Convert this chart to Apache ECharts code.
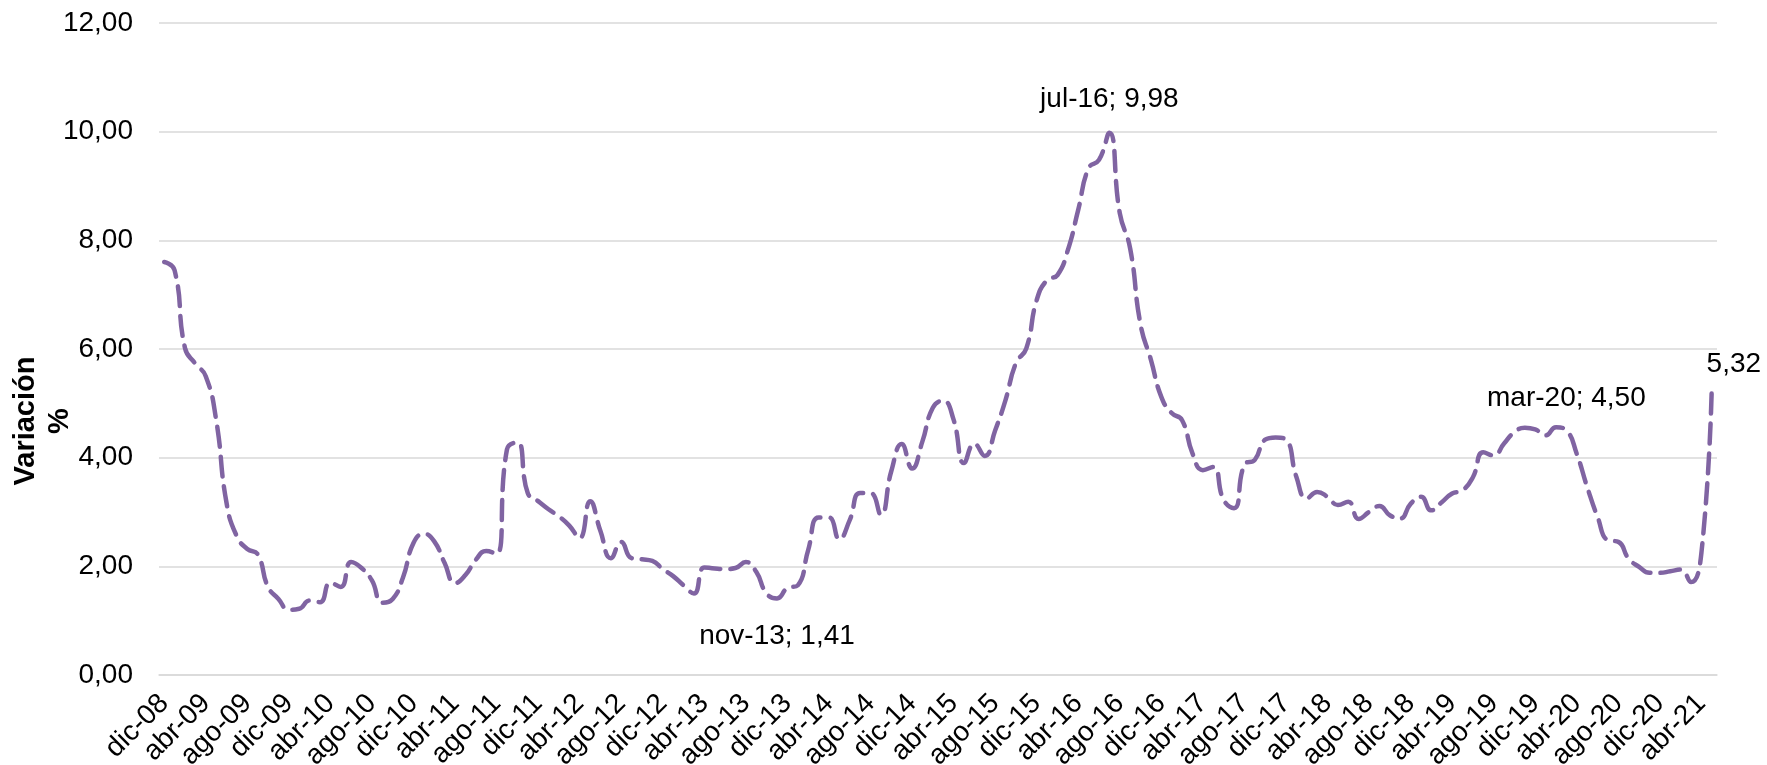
<!DOCTYPE html>
<html>
<head>
<meta charset="utf-8">
<script src="https://cdn.jsdelivr.net/npm/echarts@6/dist/echarts.min.js"></script>
<style>
  html, body { margin: 0; padding: 0; background: #ffffff; }
  #chart { width: 1767px; height: 765px; }
</style>
</head>
<body>
<div id="chart"></div>
<script>
// Monthly series: dic-08 .. may-21
const monthNames = ['ene','feb','mar','abr','may','jun','jul','ago','sep','oct','nov','dic'];
const firstMonth = { year: 2008, month: 11 };   // dic-08 (0-based month)
const monthCount = 150;

const categories = [];
for (let k = 0; k < monthCount; k++) {
  const m = (firstMonth.month + k) % 12;
  const y = firstMonth.year + Math.floor((firstMonth.month + k) / 12);
  categories.push(monthNames[m] + '-' + String(y % 100).padStart(2, '0'));
}

// Variación % (one value per month)
const values2009 = [7.60, 7.45, 6.02, 5.73, 5.50, 4.70, 3.17, 2.55, 2.32, 2.22, 1.62, 1.40, 1.20];      // dic-08 .. dic-09
const values2010 = [1.22, 1.37, 1.34, 1.70, 1.62, 2.08, 1.97, 1.74, 1.33, 1.40, 1.80, 2.43];
const values2011 = [2.60, 2.46, 2.06, 1.69, 1.84, 2.12, 2.28, 2.23, 4.15, 4.28, 3.35, 3.20];
const values2012 = [3.05, 2.92, 2.75, 2.52, 3.20, 2.65, 2.15, 2.45, 2.15, 2.13, 2.10, 1.95];
const values2013 = [1.82, 1.65, 1.50, 1.98, 1.96, 1.95, 1.97, 2.08, 1.90, 1.50, 1.41, 1.60];
const values2014 = [1.65, 2.30, 2.90, 2.90, 2.50, 2.85, 3.35, 3.35, 2.95, 3.75, 4.25, 3.80];
const values2015 = [4.30, 4.92, 5.05, 4.70, 3.90, 4.26, 4.03, 4.50, 5.06, 5.74, 6.01, 6.90];
const values2016 = [7.27, 7.36, 7.82, 8.56, 9.33, 9.48, 9.98, 8.50, 7.85, 6.45, 5.80, 5.12];
const values2017 = [4.82, 4.69, 4.08, 3.77, 3.83, 3.22, 3.07, 3.87, 3.96, 4.33, 4.37, 4.33];
const values2018 = [3.65, 3.25, 3.37, 3.28, 3.13, 3.19, 2.87, 3.00, 3.11, 2.94, 2.88, 3.15];
const values2019 = [3.28, 3.03, 3.18, 3.34, 3.40, 3.64, 4.10, 4.04, 4.26, 4.47, 4.55, 4.52];
const values2020 = [4.41, 4.56, 4.50, 4.07, 3.46, 2.91, 2.48, 2.45, 2.14, 1.99, 1.88, 1.88];
const values2021 = [1.91, 1.94, 1.71, 2.25, 5.32];                                              // ene-21 .. may-21

const values = [].concat(values2009, values2010, values2011, values2012, values2013,
  values2014, values2015, values2016, values2017, values2018, values2019, values2020, values2021);

// Months whose value is written next to the line
const labelledMonths = ['nov-13', 'jul-16', 'mar-20'];
const valueOnlyMonths = ['may-21'];

const yTicks = { min: 0, max: 12, step: 2 };
const labelEvery = 4;   // one month label every four months

const fmt = v => v.toFixed(2).replace('.', ',');

const FONT = '"Liberation Sans", Arial, sans-serif';
const TEXT_SIZE = 28;

const labelPlacement = {
  'nov-13': { position: 'bottom', distance: 24, offset: [0, 0] },
  'jul-16': { position: 'top', distance: 19, offset: [0, 0] },
  'mar-20': { position: 'top', distance: 18, offset: [0, 0] },
  'may-21': { position: 'top', distance: 8, offset: [22, 0] }
};

const seriesData = values.map((v, i) => {
  const cat = categories[i];
  if (labelledMonths.includes(cat) || valueOnlyMonths.includes(cat)) {
    const p = labelPlacement[cat];
    return {
      value: v,
      label: {
        show: true,
        position: p.position,
        distance: p.distance,
        offset: p.offset,
        color: '#000000',
        fontFamily: FONT,
        fontSize: TEXT_SIZE,
        formatter: valueOnlyMonths.includes(cat) ? fmt(v) : cat + '; ' + fmt(v)
      }
    };
  }
  return v;
});

const chart = echarts.init(document.getElementById('chart'), null, { renderer: 'canvas' });

chart.setOption({
  animation: false,
  backgroundColor: '#ffffff',
  grid: {
    left: 159, right: 50, top: 23, bottom: 90,
    containLabel: false,
    outerBoundsMode: 'none'
  },
  xAxis: {
    type: 'category',
    data: categories,
    boundaryGap: true,
    axisLine: { show: true, lineStyle: { color: '#d9d9d9', width: 1.5 } },
    axisTick: { show: false },
    axisLabel: {
      interval: (index) => index % labelEvery === 0,
      rotate: 45,
      margin: 24,
      color: '#000000',
      fontFamily: FONT,
      fontSize: TEXT_SIZE
    },
    splitLine: { show: false }
  },
  yAxis: {
    type: 'value',
    min: yTicks.min,
    max: yTicks.max,
    interval: yTicks.step,
    axisLine: { show: false },
    axisTick: { show: false },
    axisLabel: {
      margin: 26,
      color: '#000000',
      fontFamily: FONT,
      fontSize: TEXT_SIZE,
      formatter: v => fmt(v)
    },
    splitLine: { show: true, lineStyle: { color: '#d9d9d9', width: 1.5 } }
  },
  graphic: [{
    type: 'text',
    x: 43,
    y: 421,
    rotation: Math.PI / 2,
    style: {
      text: 'Variación\n%',
      fontFamily: FONT,
      fontWeight: 'bold',
      fontSize: 29,
      lineHeight: 34,
      fill: '#000000',
      align: 'center',
      verticalAlign: 'middle'
    }
  }],
  series: [{
    type: 'line',
    data: seriesData,
    smooth: 0.5,
    symbol: 'circle',
    symbolSize: 0,
    showSymbol: true,
    showAllSymbol: true,
    itemStyle: { color: '#8064A2' },
    lineStyle: {
      color: '#8064A2',
      width: 4.5,
      type: [20, 10],
      cap: 'round',
      join: 'round'
    },
    emphasis: { disabled: true },
    z: 3
  }]
});
</script>
</body>
</html>
